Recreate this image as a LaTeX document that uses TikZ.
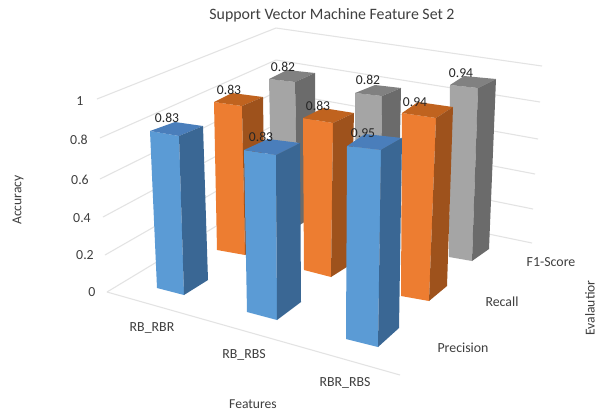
\documentclass[tikz,border=0pt]{standalone}
\usepackage{fontspec}
\setmainfont{Carlito}
\definecolor{bfront}{HTML}{5B9BD5}
\definecolor{btop}{HTML}{4A7EBB}
\definecolor{bside}{HTML}{3A6794}
\definecolor{ofront}{HTML}{ED7D31}
\definecolor{otop}{HTML}{C0631F}
\definecolor{oside}{HTML}{9E521C}
\definecolor{gfront}{HTML}{A5A5A5}
\definecolor{gtop}{HTML}{818181}
\definecolor{gside}{HTML}{6B6B6B}
\definecolor{gridc}{HTML}{E3E3E3}
\definecolor{txt}{HTML}{3F3F3F}
\definecolor{dtxt}{HTML}{262626}
\newcommand\drawbar[8]{%
  \fill[#1front] (#2)--(#3)--(#7)--(#6)--cycle;
  \fill[#1top] (#2)--(#3)--(#4)--(#5)--cycle;
  \fill[#1side] (#3)--(#4)--(#8)--(#7)--cycle;
}
\begin{document}
\begin{tikzpicture}[x=0.75pt,y=-0.75pt,
  gridline/.style={draw=gridc,line width=0.8pt},
  ticklab/.style={text=txt,font=\fontsize{10.4}{12}\selectfont,inner sep=0pt},
  datalab/.style={text=dtxt,font=\fontsize{10.2}{12}\selectfont,inner sep=0pt},
  axtitle/.style={text=txt,font=\fontsize{10.2}{12}\selectfont,inner sep=0pt},
  charttitle/.style={text=txt,font=\fontsize{11.9}{14}\selectfont,inner sep=0pt}]
\useasboundingbox (0,0) rectangle (603,412);
\fill[white] (0,0) rectangle (603,412);
% back corner and wall points
\coordinate (c0) at (107,292); \coordinate (k0) at (276,190); \coordinate (r0) at (532,243);
\coordinate (c1) at (105,255); \coordinate (k1) at (276,157); \coordinate (r1) at (533,209);
\coordinate (c2) at (103,217); \coordinate (k2) at (276,124); \coordinate (r2) at (535,174);
\coordinate (c3) at (100,179); \coordinate (k3) at (276,92);  \coordinate (r3) at (538,139);
\coordinate (c4) at (100,138); \coordinate (k4) at (276,60);  \coordinate (r4) at (540,102);
\coordinate (c5) at (97,99);   \coordinate (k5) at (276,28);  \coordinate (r5) at (542,66);
\coordinate (f1) at (400,375);
\foreach \i in {0,...,5}{\draw[gridline] (c\i)--(k\i)--(r\i);}
\draw[gridline] (c0)--(f1);
% gray row (F1-Score)
\drawbar{g}{269,79}{295,82}{315,73}{287,70}{272,221}{298,226}{316,215}
\drawbar{g}{355,93}{382,96}{401,88}{375,85}{356,239}{380,244}{398,234}
\drawbar{g}{450,85}{478,88}{496,79}{464,76}{449,257}{472,261}{489,249}
% orange row (Recall)
\drawbar{o}{214,102}{242,106}{263,97}{232,93}{217,250}{245,255}{265,243}
\drawbar{o}{303,118}{333,123}{354,113}{323,108}{304,270}{331,277}{350,265}
\drawbar{o}{402,113}{436,118}{453,107}{418,102}{401,296}{429,301}{447,286}
% blue row (Precision)
\drawbar{b}{150,131}{179,136}{203,126}{175,122}{157,288}{184,295}{208,280}
\drawbar{b}{244,150}{276,155}{300,143}{268,139}{247,312}{277,320}{301,302}
\drawbar{b}{347,146}{381,150}{402,138}{365,134}{346,339}{378,347}{399,328}
% data labels
\node[datalab] (l1) at (167,118) {0.83};
\node[datalab] (l2) at (229,90) {0.83};
\node[datalab] (l3) at (283,67) {0.82};
\node[datalab] (l4) at (261,137) {0.83};
\node[datalab] (l5) at (318,106) {0.83};
\node[datalab] (l6) at (368,80) {0.82};
\node[datalab] (l7) at (363,133) {0.95};
\node[datalab] (l8) at (415,102) {0.94};
\node[datalab] (l9) at (461,73) {0.94};
% tick labels
\node[ticklab] (t5) at (80,101) {1};
\node[ticklab] (t4) at (79,140) {0.8};
\node[ticklab] (t3) at (80,180) {0.6};
\node[ticklab] (t2) at (82,218) {0.4};
\node[ticklab] (t1) at (85,255) {0.2};
\node[ticklab] (t0) at (92,292) {0};
% category labels
\node[ticklab] (x1) at (152,328) {RB\_RBR};
\node[ticklab] (x2) at (244,355) {RB\_RBS};
\node[ticklab] (x3) at (345,383) {RBR\_RBS};
\node[ticklab] (s1) at (463,348) {Precision};
\node[ticklab] (s2) at (502,302) {Recall};
\node[ticklab] (s3) at (551,262) {F1-Score};
% axis titles
\node[axtitle] (ax) at (253,404) {Features};
\node[axtitle,rotate=90] (ay) at (18,200) {Accuracy};
\node[axtitle,rotate=90] (az) at (590,308) {Evalautior};
\node[charttitle] (title) at (332,15) {Support Vector Machine Feature Set 2};
\end{tikzpicture}
\end{document}
